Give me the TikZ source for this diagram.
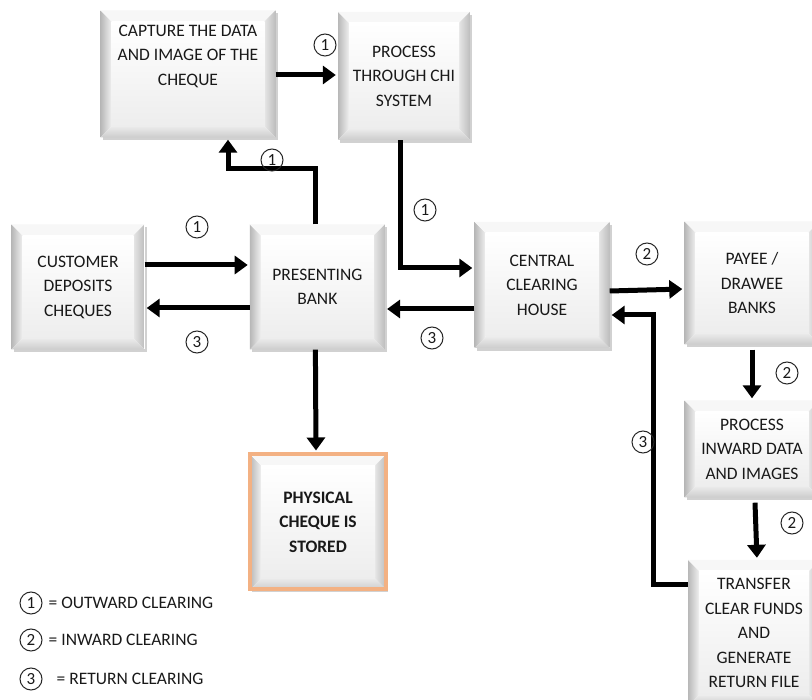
\documentclass[tikz,border=0pt]{standalone}
\usepackage{fontspec}
\setmainfont{Carlito}
\usetikzlibrary{arrows.meta,positioning,shadows}
\definecolor{glow}{RGB}{243,177,131}
\newcommand{\boxfont}{\fontsize{17.5}{24.5}\selectfont}

\begin{document}
\begin{tikzpicture}[x=1pt,y=-1pt,font=\boxfont,text=black!90,
 bevel/.style={fill=white,align=center,inner sep=0pt,
  drop shadow={shadow xshift=2pt,shadow yshift=-3pt,opacity=.3,fill=black!60},
  path picture={
   \coordinate (sw) at (path picture bounding box.south west);
   \coordinate (ne) at (path picture bounding box.north east);
   \coordinate (nw) at (sw |- ne);
   \coordinate (se) at (sw -| ne);
   \coordinate (isw) at ([shift={(11pt,11pt)}]sw);
   \coordinate (inw) at ([shift={(11pt,-11pt)}]nw);
   \coordinate (ine) at ([shift={(-11pt,-11pt)}]ne);
   \coordinate (ise) at ([shift={(-11pt,11pt)}]se);
   \shade[left color=black!28,right color=black!6] (sw) -- (nw) -- (inw) -- (isw) -- cycle;
   \fill[black!3] (nw) -- (ne) -- (ine) -- (inw) -- cycle;
   \shade[left color=black!10,right color=black!26] (ne) -- (se) -- (ise) -- (ine) -- cycle;
   \shade[top color=black!8,bottom color=black!20] (se) -- (sw) -- (isw) -- (ise) -- cycle;
   \shade[top color=white,bottom color=black!7] (isw) rectangle (ine);
  }},
 flow/.style={line width=5pt,-{Triangle[length=13pt,width=18pt]},shorten >=2pt},
 num/.style={circle,draw=black!85,line width=1pt,minimum size=22pt,inner sep=0pt,
  font=\fontsize{17}{17}\selectfont}]
\useasboundingbox (0,0) rectangle (812,700);
\clip (0,0) rectangle (812,700);

% boxes
\node[bevel,minimum width=175,minimum height=127] (capture) at (188,74) {CAPTURE THE DATA\\AND IMAGE OF THE\\CHEQUE\\[13pt]\mbox{}};
\node[bevel,minimum width=132,minimum height=128] (chi) at (404,76) {PROCESS\\THROUGH CHI\\SYSTEM};
\node[bevel,minimum width=133,minimum height=125] (customer) at (78,287) {CUSTOMER\\DEPOSITS\\CHEQUES};
\node[bevel,minimum width=135,minimum height=125,right=105pt of customer] (presenting) {PRESENTING\\BANK};
\node[bevel,minimum width=135,minimum height=126] (central) at (542,285) {CENTRAL\\CLEARING\\HOUSE};
\node[bevel,minimum width=135,minimum height=123] (payee) at (752,283) {PAYEE /\\DRAWEE\\BANKS};
\node[bevel,minimum width=135,minimum height=97] (inward) at (752,449) {PROCESS\\INWARD DATA\\AND IMAGES};
\node[bevel,minimum width=132,minimum height=146] (transfer) at (754,633) {TRANSFER\\CLEAR FUNDS\\AND\\GENERATE\\RETURN FILE};
\node[bevel,draw=glow,line width=4pt,minimum width=136,minimum height=135,
 font={\boxfont\bfseries}] (physical) at (318,522) {PHYSICAL\\CHEQUE IS\\STORED};

% connectors
\draw[flow] (capture.east |- 0,75) -- (chi.west |- 0,75);
\draw[flow] ([xshift=-2pt]presenting.north) -- ++(0,-56) -| ([xshift=40pt]capture.south);
\draw[flow] ([yshift=22pt]customer.east) -- ([yshift=22pt]presenting.west);
\draw[flow] ([yshift=-21pt]presenting.west) -- ([yshift=-21pt]customer.east);
\draw[flow] ([xshift=-4pt]chi.south) |- ([yshift=17pt]central.west);
\draw[flow] ([yshift=-24pt]central.west) -- ([yshift=-22pt]presenting.east);
\draw[flow] ([yshift=-6pt]central.east) -- ([yshift=-6pt]payee.west);
\draw[flow] ([yshift=-5pt]payee.south) -- (inward.north);
\draw[flow] ([shift={(3pt,-5pt)}]inward.south) -- ([xshift=3pt]transfer.north);
\draw[flow] ([yshift=48pt]transfer.west) -- ++(-34,0) |- ([yshift=-30pt]central.east);
\draw[flow] ([xshift=-2pt]presenting.south) -- ([xshift=-2pt]physical.north);

% step numbers
\node[num] (n1) at (325,45) {1};
\node[num] (n2) at (272,160) {1};
\node[num] (n3) at (197,227) {1};
\node[num] (n4) at (197,342) {3};
\node[num] (n5) at (425,210) {1};
\node[num] (n6) at (432,338) {3};
\node[num] (n7) at (647,254) {2};
\node[num] (n8) at (787,373) {2};
\node[num] (n9) at (792,523) {2};
\node[num] (n10) at (643,442) {3};

% legend
\node[num] (k1) at (31,603) {1};
\node[num] (k2) at (31,640) {2};
\node[num] (k3) at (31,679) {3};
\node[anchor=west,inner sep=0pt,right=6pt of k1] (legout) {= OUTWARD CLEARING};
\node[anchor=west,inner sep=0pt,right=6pt of k2] (legin) {= INWARD CLEARING};
\node[anchor=west,inner sep=0pt,right=14pt of k3] (legret) {= RETURN CLEARING};
\end{tikzpicture}
\end{document}
